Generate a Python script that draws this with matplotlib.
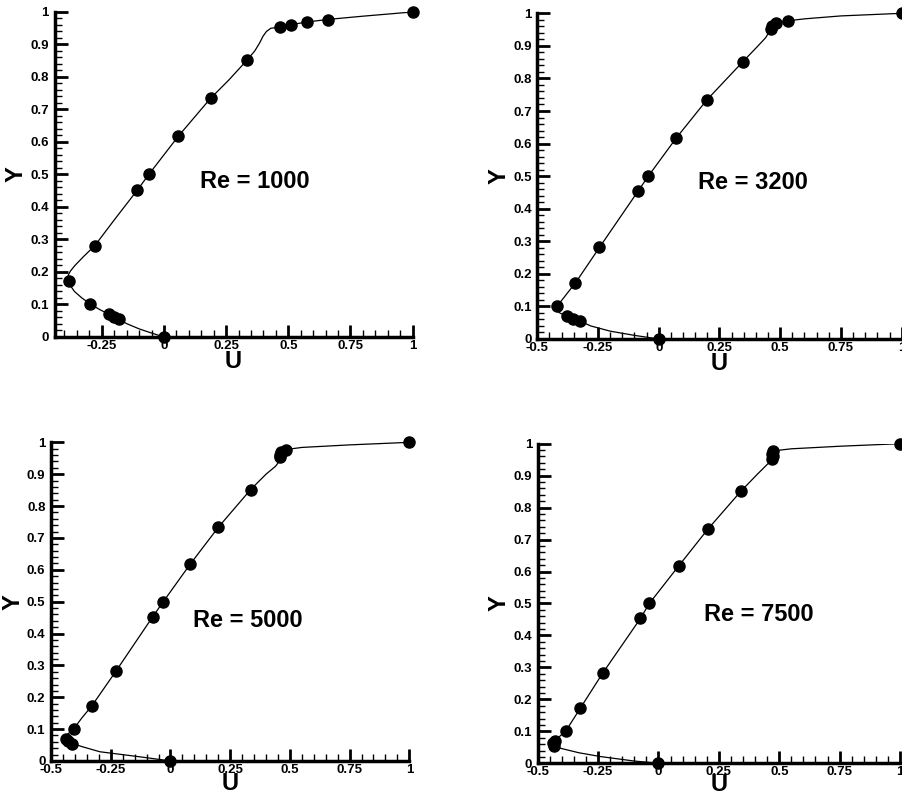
import matplotlib
matplotlib.use("Agg")
import matplotlib.pyplot as plt
from matplotlib.ticker import MultipleLocator
import numpy as np

# reference points (U along vertical centreline)
y_ref = [1.0000, 0.9766, 0.9688, 0.9609, 0.9531, 0.8516, 0.7344, 0.6172, 0.5000,
         0.4531, 0.2813, 0.1719, 0.1016, 0.0703, 0.0625, 0.0547, 0.0000]
u_1000 = [1.0, 0.65928, 0.57492, 0.51117, 0.46604, 0.33304, 0.18719, 0.05702, -0.06080,
          -0.10648, -0.27805, -0.38289, -0.29730, -0.22220, -0.20196, -0.18109, 0.0]
u_3200 = [1.0, 0.53236, 0.48296, 0.46547, 0.46101, 0.34682, 0.19791, 0.07156, -0.04272,
          -0.08636, -0.24427, -0.34323, -0.41933, -0.37827, -0.35344, -0.32407, 0.0]
u_5000 = [1.0, 0.48223, 0.46120, 0.45992, 0.46036, 0.33556, 0.20087, 0.08183, -0.03039,
          -0.07404, -0.22855, -0.33050, -0.40435, -0.43643, -0.42901, -0.41165, 0.0]
u_7500 = [1.0, 0.47244, 0.47048, 0.47323, 0.47167, 0.34228, 0.20591, 0.08342, -0.03800,
          -0.07503, -0.23176, -0.32393, -0.38324, -0.43025, -0.43590, -0.43154, 0.0]

# computed profiles
line_1000_u = [0, -0.05, -0.10, -0.15, -0.181, -0.222, -0.26, -0.297, -0.33, -0.36, -0.378,
               -0.387, -0.385, -0.376, -0.358, -0.32, -0.278, -0.2, -0.106, -0.061, 0.057,
               0.187, 0.26, 0.333, 0.365, 0.385, 0.398, 0.412, 0.43, 0.466, 0.511, 0.575,
               0.659, 0.8, 1.0]
line_1000_y = [0, 0.012, 0.025, 0.041, 0.055, 0.07, 0.085, 0.102, 0.12, 0.14, 0.16,
               0.175, 0.19, 0.203, 0.22, 0.25, 0.281, 0.36, 0.453, 0.5, 0.617,
               0.734, 0.79, 0.851, 0.88, 0.905, 0.925, 0.94, 0.95, 0.953, 0.961, 0.969,
               0.977, 0.987, 1.0]
line_3200_u = [0, -0.1, -0.2, -0.28, -0.324, -0.353, -0.378, -0.405, -0.425, -0.43, -0.419,
               -0.40, -0.375, -0.343, -0.244, -0.086, -0.043, 0.072, 0.198, 0.347, 0.405,
               0.44, 0.455, 0.461, 0.468, 0.483, 0.532, 0.6, 0.75, 1.0]
line_3200_y = [0, 0.011, 0.024, 0.04, 0.055, 0.062, 0.07, 0.079, 0.088, 0.095, 0.102,
               0.118, 0.142, 0.172, 0.281, 0.453, 0.5, 0.617, 0.734, 0.852, 0.897,
               0.925, 0.943, 0.953, 0.962, 0.969, 0.977, 0.983, 0.992, 1.0]
line_5000_u = [0, -0.087, -0.18, -0.296, -0.37, -0.412, -0.43, -0.44, -0.436, -0.404, -0.37,
               -0.33, -0.229, -0.074, -0.030, 0.082, 0.201, 0.336, 0.40, 0.44, 0.46, 0.462,
               0.47, 0.49, 0.55, 0.75, 1.0]
line_5000_y = [0, 0.009, 0.018, 0.029, 0.045, 0.055, 0.062, 0.07, 0.08, 0.102, 0.136,
               0.172, 0.281, 0.453, 0.5, 0.617, 0.734, 0.852, 0.9, 0.925, 0.945, 0.96,
               0.97, 0.978, 0.984, 0.992, 1.0]
line_7500_u = [0, -0.10, -0.24, -0.33, -0.406, -0.432, -0.436, -0.436, -0.43, -0.383, -0.324,
               -0.232, -0.075, -0.038, 0.083, 0.206, 0.342, 0.41, 0.45, 0.47, 0.472, 0.473,
               0.472, 0.48, 0.55, 0.75, 1.0]
line_7500_y = [0, 0.007, 0.021, 0.033, 0.047, 0.05, 0.055, 0.0625, 0.07, 0.102, 0.172,
               0.281, 0.453, 0.5, 0.617, 0.734, 0.852, 0.905, 0.935, 0.948, 0.955, 0.962,
               0.969, 0.978, 0.984, 0.992, 1.0]

titles = ["Re = 1000", "Re = 3200", "Re = 5000", "Re = 7500"]
refs = [u_1000, u_3200, u_5000, u_7500]
lines = [(line_1000_u, line_1000_y), (line_3200_u, line_3200_y),
         (line_5000_u, line_5000_y), (line_7500_u, line_7500_y)]
xmins = [-0.44, -0.5, -0.5, -0.5]
label_pos = [(0.366, 0.477), (0.388, 0.479), (0.324, 0.442), (0.415, 0.466)]
boxes = [[0.0604, 0.5772, 0.3966, 0.4078],
         [0.5950, 0.5747, 0.4035, 0.4086],
         [0.0565, 0.0452, 0.3968, 0.3998],
         [0.5955, 0.0423, 0.4012, 0.4010]]
u_pads = [-1, -1, -3, -4]

plt.rcParams['font.family'] = ['Liberation Sans', 'DejaVu Sans']

fig = plt.figure(figsize=(9.03, 7.97), dpi=100)

for i in range(4):
    ax = fig.add_axes(boxes[i])
    ax.plot(lines[i][0], lines[i][1], color='black', lw=0.9, zorder=2)
    ax.plot(refs[i], y_ref, 'o', color='black', ms=8, zorder=3, clip_on=False)
    ax.set_xlim(xmins[i], 1)
    ax.set_ylim(0, 1)
    ax.spines['top'].set_visible(False)
    ax.spines['right'].set_visible(False)
    ax.spines['left'].set_linewidth(2.5)
    ax.spines['bottom'].set_linewidth(2.5)
    ax.xaxis.set_minor_locator(MultipleLocator(0.05))
    ax.yaxis.set_minor_locator(MultipleLocator(0.02))
    ax.tick_params(which='major', direction='in', length=9, width=2, labelsize=9.5, pad=4)
    ax.tick_params(which='minor', direction='in', length=5, width=1)
    xt = [t for t in np.arange(-0.5, 1.01, 0.25) if t >= xmins[i] - 1e-9]
    ax.set_xticks(xt)
    ax.set_xticklabels(['%g' % t for t in xt], fontweight='bold')
    yt = np.arange(0, 1.01, 0.1)
    ax.set_yticks(yt)
    ax.set_yticklabels(['%g' % round(t, 1) for t in yt], fontweight='bold')
    ax.tick_params(axis='x', pad=2)
    ax.set_xlabel('U', fontsize=17, fontweight='bold', labelpad=u_pads[i])
    ax.set_ylabel('Y', fontsize=17, fontweight='bold', labelpad=2)
    ax.text(label_pos[i][0], label_pos[i][1], titles[i], fontsize=17,
            fontweight='bold', ha='center', va='center')

fig.savefig('out.png', dpi=100)
